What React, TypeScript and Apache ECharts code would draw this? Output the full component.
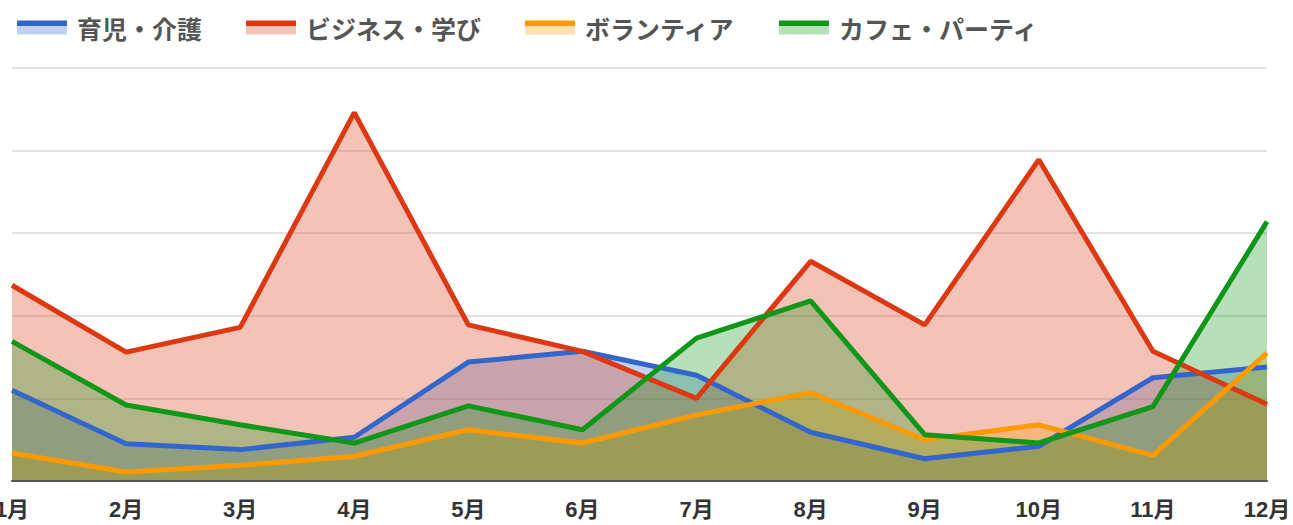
import React, { useEffect, useRef } from "react";
import * as echarts from "echarts";

const months = ["1月", "2月", "3月", "4月", "5月", "6月", "7月", "8月", "9月", "10月", "11月", "12月"];
const seriesNames = ["育児・介護", "ビジネス・学び", "ボランティア", "カフェ・パーティ"];
const childcare = [1.1, 0.45, 0.38, 0.53, 1.44, 1.57, 1.28, 0.59, 0.27, 0.42, 1.25, 1.38];
const business = [2.37, 1.56, 1.86, 4.46, 1.89, 1.57, 1.0, 2.66, 1.89, 3.89, 1.57, 0.93];
const volunteer = [0.34, 0.11, 0.19, 0.3, 0.62, 0.46, 0.8, 1.07, 0.5, 0.68, 0.31, 1.55];
const cafe = [1.69, 0.92, 0.68, 0.46, 0.91, 0.62, 1.73, 2.18, 0.56, 0.46, 0.9, 3.14];
const colors = ["#3366cc", "#dc3912", "#ff9900", "#109618"];
const lightColors = ["rgba(51,102,204,0.3)", "rgba(220,57,18,0.3)", "rgba(255,153,0,0.3)", "rgba(16,150,24,0.3)"];

const FONT = "'Noto Sans CJK JP', 'Noto Sans', sans-serif";
const AXIS_FONT = "'Liberation Sans', 'Noto Sans CJK JP', sans-serif";

export default function App() {
  const ref = useRef<HTMLDivElement>(null);
  useEffect(() => {
    if (!ref.current) return;
    const chart = echarts.init(ref.current, null, { renderer: "svg" });
    const values = [childcare, business, volunteer, cafe];
    const areaSeries = values.map((v, i) => ({
      name: seriesNames[i],
      type: "line",
      data: v,
      showSymbol: false,
      symbol: "none",
      lineStyle: { width: 0, color: colors[i] },
      itemStyle: { color: colors[i] },
      areaStyle: { color: colors[i], opacity: 0.3 },
      z: 2,
      silent: true,
    }));
    const lineSeries = values.map((v, i) => ({
      name: seriesNames[i],
      type: "line",
      data: v,
      showSymbol: false,
      symbol: "none",
      lineStyle: { width: 5, color: colors[i] },
      itemStyle: { color: colors[i] },
      z: 3,
    }));
    chart.setOption({
      animation: false,
      color: colors,
      legend: {
        left: 12,
        top: 10,
        itemWidth: 50,
        itemHeight: 14,
        itemGap: 44,
        icon: "rect",
        textStyle: {
          fontSize: 25,
          color: "#555",
          fontWeight: "bold",
          fontFamily: FONT,
          padding: [0, 0, 9, 5],
        },
        data: seriesNames.map((n, i) => ({
          name: n,
          itemStyle: {
            color: new echarts.graphic.LinearGradient(0, 0, 0, 1, [
              { offset: 0, color: colors[i] },
              { offset: 0.36, color: colors[i] },
              { offset: 0.36, color: lightColors[i] },
              { offset: 1, color: lightColors[i] },
            ]),
          },
        })),
      },
      grid: { left: 12, right: 26, top: 68, bottom: 44, containLabel: false, outerBoundsMode: "none" },
      xAxis: {
        type: "category",
        data: months,
        boundaryGap: false,
        z: 10,
        axisTick: { show: false },
        axisLine: { lineStyle: { color: "#555", width: 2 } },
        axisLabel: {
          fontSize: 22,
          color: "#333",
          fontWeight: "bold",
          fontFamily: AXIS_FONT,
          margin: 17,
          interval: 0,
          hideOverlap: false,
        },
        splitLine: { show: false },
      },
      yAxis: {
        type: "value",
        min: 0,
        max: 5,
        interval: 1,
        axisLabel: { show: false },
        axisLine: { show: false },
        axisTick: { show: false },
        splitLine: { lineStyle: { color: "#e2e2e2", width: 2 } },
      },
      series: [...areaSeries, ...lineSeries],
    });
    return () => chart.dispose();
  }, []);
  return <div ref={ref} style={{ position: "absolute", left: 0, top: 0, width: 1293, height: 525 }} />;
}
